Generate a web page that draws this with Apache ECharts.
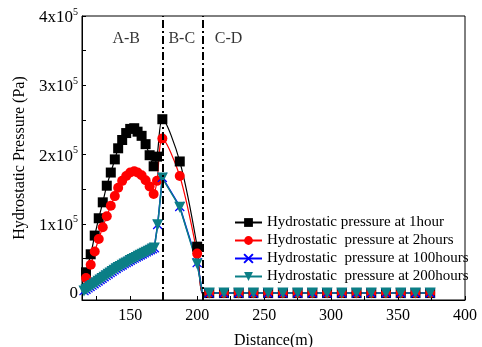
<!DOCTYPE html>
<html>
<head>
<meta charset="utf-8">
<script src="https://cdn.jsdelivr.net/npm/echarts@6/dist/echarts.min.js"></script>
<style>
html,body{margin:0;padding:0;background:#fff;}
#chart{width:482px;height:347px;}
</style>
</head>
<body>
<div id="chart"></div>
<script>
// ---- data ----
const xAB = [117,120.5,123.5,126.5,129.5,132.5,135.5,138.5,141,144,147,150,153,155.5,158.5,161.5,164.5,167.5,170];
const black1h = [30000,56000,83000,108000,131000,155000,174000,193000,209000,221000,231000,237000,238000,233000,227000,215000,199000,183000,197000];
const red2h   = [21600,40800,60000,78000,95000,111000,126000,140000,152000,162000,169000,174000,176000,174000,170000,163000,154000,143000,162000];

const xDense = [115.5,117,118.5,120,121.5,123,124.5,126,127.5,129,130.5,132,133.5,135,136.5,138,139.5,141,142.5,144,145.5,147,148.5,150,151.5,153,154.5,156,157.5,159,160.5,162,163.5,165,166.5,168,170.5];
const teal200h = [3000,5000,7000,9000,11000,13000,15000,17000,19000,21000,23000,25000,27000,29000,31000,33000,35000,37000,38500,40000,42000,43500,45000,47000,48500,50000,51500,53000,54500,56000,57500,59000,60500,62000,63500,65000,98500];
const blue100h = [3500,5500,7500,9500,11500,13500,15500,17500,19500,21500,23500,25500,27500,29500,31500,33500,35500,37500,39000,40500,42500,44000,45500,47500,49000,50500,52000,53500,55000,56500,58000,59500,61000,62500,64000,65500,99000];

const xBC = [174,187,200,204];
const black1hBC = [251000,190000,67000,0];
const red2hBC   = [223000,169000,57000,0];
const blue100hBC = [167000,125000,44000,0];
const teal200hBC = [166000,124000,42000,0];

const xCD = [209,220,231,242,253,264,275,286,297,308,319,330,341,352,363,374];
const zeroCD = [0,0,0,0,0,0,0,0,0,0,0,0,0,0,0,0];

const boundaries = [174,204];
const regionNames = ['A-B','B-C','C-D'];
const regionX = [147,188.5,223.5];
const regionY = [367000,367000,367000];

const seriesNames = ['Hydrostatic pressure at 1hour','Hydrostatic  pressure at 2hours','Hydrostatic  pressure at 100hours','Hydrostatic  pressure at 200hours'];
const xTicks = [125,150,175,200,225,250,275,300,325,350,375,400];
const xLabels = [150,200,250,300,350,400];
const yTicks = [0,50000,100000,150000,200000,250000,300000,350000,400000];
const yLabels = [0,100000,200000,300000,400000];

// ---- build ----
function build(xs, ys, xs2, ys2, xs3, ys3){
  const out = [];
  xs.forEach((x,i)=>out.push([x, ys[i]]));
  xs2.forEach((x,i)=>{
    if (x === 204) out.push({value:[x, ys2[i]], symbol:'none'});
    else out.push([x, ys2[i]]);
  });
  xs3.forEach((x,i)=>out.push([x, ys3[i]]));
  return out;
}
const FONT = 'Liberation Serif, Times New Roman, serif';
const chart = echarts.init(document.getElementById('chart'), null, {renderer:'canvas'});
const crossPath = 'path://M0,0L10,10M10,0L0,10';

const option = {
  animation:false,
  backgroundColor:'#fff',
  textStyle:{fontFamily:FONT},
  grid:{left:82,right:17,top:16,bottom:47,show:true,borderColor:'#000',borderWidth:1,containLabel:false,outerBoundsMode:'none'},
  xAxis:{
    type:'value',min:114,max:400,
    name:'Distance(m)',nameLocation:'middle',nameGap:33,
    nameTextStyle:{fontFamily:FONT,fontSize:16,color:'#000'},
    axisLine:{show:true,onZero:false,lineStyle:{color:'#000',width:1}},
    axisTick:{show:true,inside:true,length:4,customValues:xTicks,lineStyle:{color:'#000'}},
    axisLabel:{customValues:xLabels,fontFamily:FONT,fontSize:16,color:'#000',margin:8},
    splitLine:{show:false}
  },
  yAxis:{
    type:'value',min:-10000,max:400000,
    name:'Hydrostatic Pressure (Pa)',nameLocation:'middle',nameGap:52,
    nameTextStyle:{fontFamily:FONT,fontSize:16,color:'#000'},
    axisLine:{show:true,onZero:false,lineStyle:{color:'#000',width:1}},
    axisTick:{show:true,inside:true,length:4,customValues:yTicks,lineStyle:{color:'#000'}},
    axisLabel:{customValues:yLabels,fontFamily:FONT,fontSize:17,color:'#000',margin:4,
      formatter:function(v){ if(v===0) return '0'; return '{b|'+(v/100000)+'x10}{s|5}'; },
      rich:{b:{fontFamily:FONT,fontSize:17,color:'#000',padding:[3,0,0,0]},s:{fontFamily:FONT,fontSize:10,color:'#000',padding:[0,0,8,0]}}
    },
    splitLine:{show:false}
  },
  legend:{
    orient:'vertical',left:229,top:209,
    itemWidth:27,itemHeight:11,itemGap:1,
    textStyle:{fontFamily:FONT,fontSize:15,color:'#000',lineHeight:17},
    data:seriesNames
  },
  series:[
    {name:seriesNames[0],type:'line',data:build(xAB,black1h,xBC,black1hBC,xCD,zeroCD),
     symbol:'rect',symbolSize:10,smooth:0.3,
     lineStyle:{color:'#000',width:1.2},itemStyle:{color:'#000'},
     markLine:{silent:true,symbol:['none','none'],label:{show:false},
       lineStyle:{color:'#000',width:2,type:[8,3,2,3]},
       data:boundaries.map(b=>({xAxis:b}))}
    },
    {name:seriesNames[1],type:'line',data:build(xAB,red2h,xBC,red2hBC,xCD,zeroCD),
     symbol:'circle',symbolSize:10,smooth:0.3,
     lineStyle:{color:'#ff0000',width:1.2},itemStyle:{color:'#ff0000'}},
    {name:seriesNames[2],type:'line',data:build(xDense,blue100h,xBC,blue100hBC,xCD,zeroCD),
     symbol:crossPath,symbolSize:9,
     lineStyle:{color:'#0000ff',width:1.5},itemStyle:{color:'#0000ff',borderColor:'#0000ff',borderWidth:1.3}},
    {name:seriesNames[3],type:'line',data:build(xDense,teal200h,xBC,teal200hBC,xCD,zeroCD),
     symbol:'triangle',symbolRotate:180,symbolSize:11,
     lineStyle:{color:'#0b7f86',width:1.5},itemStyle:{color:'#0b7f86'}},
    {name:'regions',type:'scatter',symbolSize:0,silent:true,
     data:regionX.map((x,i)=>({value:[x,regionY[i]],name:regionNames[i]})),
     label:{show:true,position:'inside',formatter:'{b}',fontFamily:FONT,fontSize:16,color:'#000'}}
  ]
};
chart.setOption(option);
</script>
</body>
</html>
